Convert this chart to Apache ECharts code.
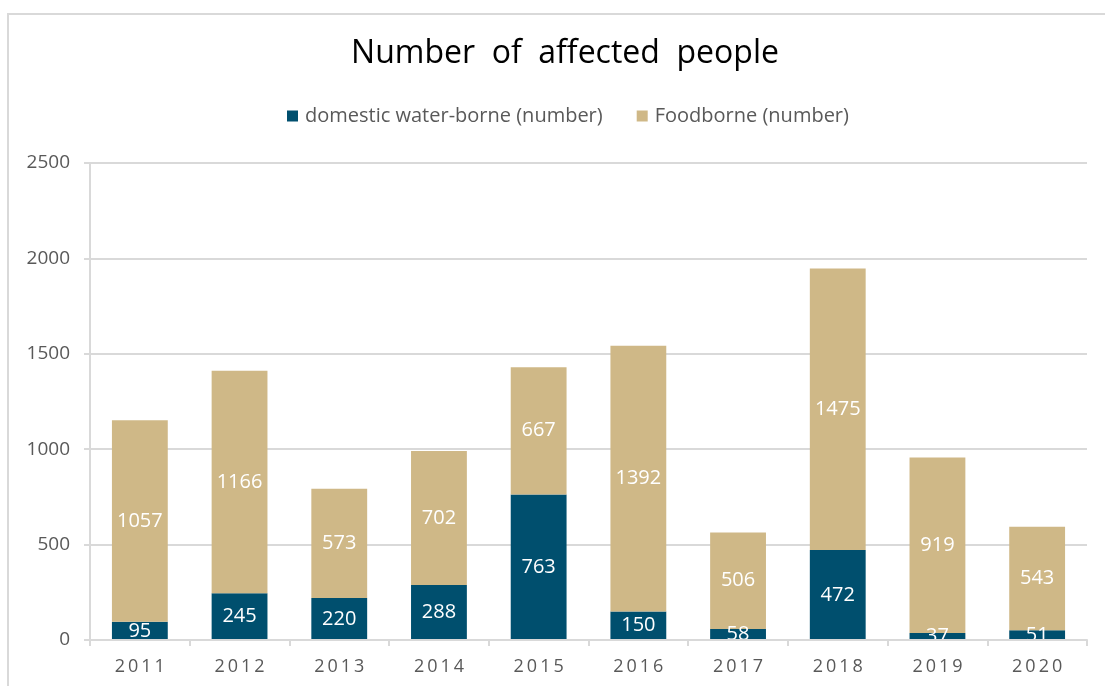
<!DOCTYPE html>
<html>
<head>
<meta charset="utf-8">
<script src="https://cdn.jsdelivr.net/npm/echarts@6/dist/echarts.min.js"></script>
<style>
  html, body { margin: 0; padding: 0; background: #ffffff; }
  #chart { width: 1105px; height: 686px; }
</style>
</head>
<body>
<div id="chart"></div>
<script>
// Outbreak data, number of affected people per year
const years = ['2011', '2012', '2013', '2014', '2015', '2016', '2017', '2018', '2019', '2020'];
const waterborne = [95, 245, 220, 288, 763, 150, 58, 472, 37, 51];
const foodborne = [1057, 1166, 573, 702, 667, 1392, 506, 1475, 919, 543];
const yTicks = [0, 500, 1000, 1500, 2000, 2500];

const FONT = '"Open Sans", "Noto Sans", sans-serif';
const GREY_TEXT = '#595959';
const LINE = '#d9d9d9';

// spread the digits of the year labels apart
const spaced = s => s.split('').join('\u2009');

const chart = echarts.init(document.getElementById('chart'), null, { renderer: 'canvas' });

const gridLeft = 90, gridRight = 18, gridTop = 163, gridBottom = 46;

chart.setOption({
  animation: false,
  backgroundColor: '#ffffff',
  title: {
    text: 'Number  of  affected  people',
    left: 560,
    textAlign: 'center',
    top: 33,
    textStyle: { fontFamily: FONT, fontSize: 32, fontWeight: 'normal', color: '#000000' }
  },
  legend: {
    top: 101,
    left: 282,
    itemWidth: 11,
    itemHeight: 11,
    itemGap: 34,
    icon: 'rect',
    textStyle: { fontFamily: FONT, fontSize: 20, color: GREY_TEXT, padding: [0, 0, 0, 2] }
  },
  grid: { left: gridLeft, right: gridRight, top: gridTop, bottom: gridBottom, containLabel: false },
  xAxis: {
    type: 'category',
    data: years,
    z: 5,
    axisLine: { lineStyle: { color: LINE, width: 2 } },
    axisTick: { show: true, length: 6, lineStyle: { color: LINE, width: 2 } },
    axisLabel: {
      formatter: v => spaced(v),
      fontFamily: FONT, fontSize: 18, color: GREY_TEXT, margin: 18
    }
  },
  yAxis: {
    type: 'value',
    min: yTicks[0],
    max: yTicks[yTicks.length - 1],
    interval: 500,
    axisLine: { show: true, lineStyle: { color: LINE, width: 2 } },
    axisTick: { show: true, length: 6, lineStyle: { color: LINE, width: 2 } },
    splitLine: { lineStyle: { color: LINE, width: 2 } },
    axisLabel: {
      formatter: v => String(v),
      fontFamily: FONT, fontSize: 19, color: GREY_TEXT, margin: 20
    }
  },
  series: [
    {
      name: 'domestic water-borne (number)',
      type: 'bar',
      stack: 'total',
      data: waterborne,
      barWidth: '56%',
      itemStyle: { color: '#004f6e' },
      label: { show: true, position: 'inside', color: '#ffffff', fontFamily: FONT, fontSize: 20 }
    },
    {
      name: 'Foodborne (number)',
      type: 'bar',
      stack: 'total',
      data: foodborne,
      barWidth: '56%',
      itemStyle: { color: '#cfb887' },
      label: { show: true, position: 'inside', color: '#ffffff', fontFamily: FONT, fontSize: 20 }
    }
  ],
  graphic: [
    // outer frame of the chart area
    {
      type: 'rect',
      z: 0,
      shape: { x: 8, y: 14, width: 1200, height: 800 },
      style: { fill: null, stroke: LINE, lineWidth: 2 }
    },
    // mask below the baseline so labels of thin bars are clipped at the axis
    {
      type: 'rect',
      z: 4,
      shape: { x: gridLeft + 2, y: 641, width: 1105 - gridLeft - gridRight - 2, height: 30 },
      style: { fill: '#ffffff' }
    }
  ]
});
</script>
</body>
</html>
